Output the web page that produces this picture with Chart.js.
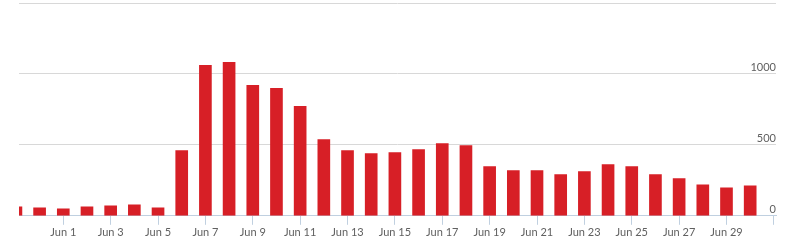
<!DOCTYPE html>
<html>
<head>
<meta charset="utf-8">
<script src="https://cdn.jsdelivr.net/npm/chart.js@4"></script>
<style>
  body { margin: 0; background: #fff; }
  #wrap { width: 800px; height: 245px; }
</style>
</head>
<body>
<div id="wrap"><canvas id="dailyChart"></canvas></div>
<script>
// Days shown (May 30 is partly cut off on the left)
var days = ['May 30', 'May 31', 'Jun 1', 'Jun 2', 'Jun 3', 'Jun 4', 'Jun 5', 'Jun 6', 'Jun 7', 'Jun 8',
            'Jun 9', 'Jun 10', 'Jun 11', 'Jun 12', 'Jun 13', 'Jun 14', 'Jun 15', 'Jun 16', 'Jun 17',
            'Jun 18', 'Jun 19', 'Jun 20', 'Jun 21', 'Jun 22', 'Jun 23', 'Jun 24', 'Jun 25', 'Jun 26',
            'Jun 27', 'Jun 28', 'Jun 29', 'Jun 30', 'Jul 1'];
// Daily counts
var counts = [64, 57, 50, 64, 71, 78, 57, 460, 1061, 1082, 919, 898, 771, 537, 460, 438, 446,
              467, 509, 495, 347, 318, 318, 290, 311, 361, 347, 290, 262, 219, 198, 212];
var yTicks = [0, 500, 1000, 1500];

var points = counts.map(function (v, i) { return { x: i, y: v }; });

var ctx = document.getElementById('dailyChart').getContext('2d');
var dailyChart = new Chart(ctx, {
    type: 'bar',
    data: {
        datasets: [{
            data: points,
            backgroundColor: '#d71f26',
            barThickness: 12
        }]
    },
    options: {
        responsive: true,
        maintainAspectRatio: false,
        animation: false,
        layout: { padding: { left: 19, right: 24, top: 3, bottom: 5 } },
        plugins: { legend: { display: false }, tooltip: { enabled: false } },
        scales: {
            x: {
                type: 'linear',
                offset: false,
                min: 0.13,
                max: 32.09,
                grid: { offset: false, drawOnChartArea: false, drawTicks: true, tickLength: 9, color: '#c0d0e0' },
                border: { color: '#c0d0e0' },
                ticks: {
                    stepSize: 2,
                    includeBounds: false,
                    autoSkip: false,
                    maxRotation: 0,
                    padding: 1,
                    color: '#606060',
                    font: { family: 'Lato', size: 11 },
                    callback: function (value) {
                        return value < days.length - 1 ? days[value] : '';
                    }
                }
            },
            y: {
                position: 'right',
                min: yTicks[0],
                max: yTicks[yTicks.length - 1],
                grid: { color: '#d8d8d8', drawTicks: false },
                border: { display: false },
                ticks: {
                    stepSize: 500,
                    mirror: true,
                    padding: 0,
                    labelOffset: -6,
                    color: '#606060',
                    // small lineHeight so the axis keeps no extra room at the top
                    font: { family: 'Lato', size: 11, lineHeight: 0.4 },
                    callback: function (value) {
                        return value === yTicks[yTicks.length - 1] ? '' : value;
                    }
                }
            }
        }
    }
});
</script>
</body>
</html>
